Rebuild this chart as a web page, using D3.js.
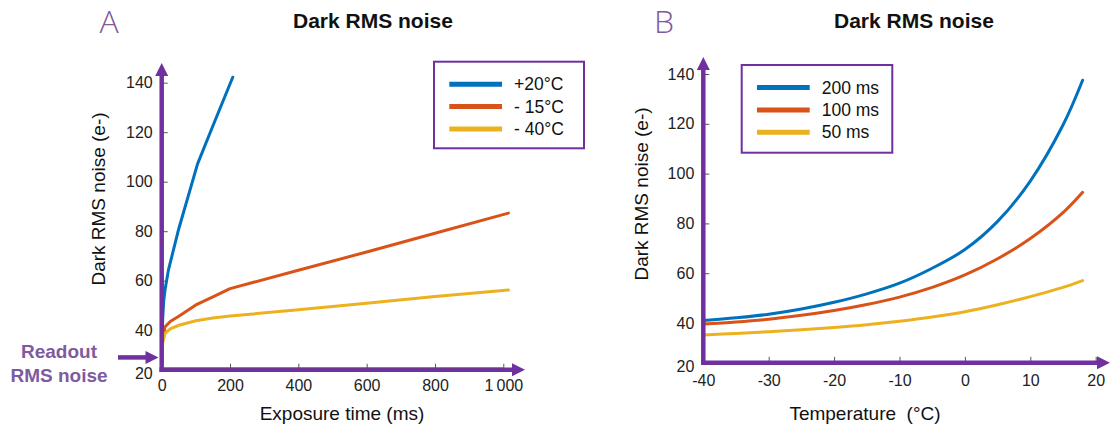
<!DOCTYPE html>
<html>
<head>
<meta charset="utf-8">
<script src="https://cdn.jsdelivr.net/npm/d3@7"></script>
<style>
  html, body { margin: 0; padding: 0; background: #fff; }
  svg { display: block; font-family: "Liberation Sans", Arial, sans-serif; }
</style>
</head>
<body>
<svg id="chart" width="1112" height="432"></svg>
<script>
// Panel A: dark noise vs exposure time (ms), one line per sensor temperature
const expTimeHot = [0, 3, 6, 10, 20, 50, 105, 150, 208];
const noiseHot = [30, 45, 52, 56.5, 64.5, 81, 107.2, 122.6, 142.2];
const expTimeCold = [0, 3, 10, 25, 50, 100, 150, 200, 400, 600, 800, 1015];
const noiseMinus15 = [30, 38, 41.4, 43.5, 45.6, 50.2, 53.5, 56.8, 64.2, 71.6, 79.2, 87.3];
const noiseMinus40 = [30, 35, 38.7, 40.5, 42, 43.8, 44.9, 45.7, 48.3, 50.9, 53.6, 56.2];
const tempLabels = ["+20°C", "- 15°C", "- 40°C"];
const readoutNoise = 29;

// Panel B: dark noise vs temperature (°C), one line per exposure time
const temps = [-40, -35, -30, -25, -20, -15, -10, -5, 0, 5, 10, 15, 18];
const noise200 = [41.0, 42.1, 43.5, 45.6, 48.3, 51.7, 56.0, 62.0, 69.5, 80.8, 97.0, 119.5, 137.5];
const noise100 = [39.6, 40.4, 41.5, 43.1, 45.0, 47.4, 50.4, 54.3, 59.3, 65.8, 73.9, 84.3, 92.5];
const noise50 = [35.2, 35.8, 36.5, 37.3, 38.2, 39.3, 40.7, 42.4, 44.5, 47.3, 50.6, 54.3, 57.0];
const expLabels = ["200 ms", "100 ms", "50 ms"];

// shared ticks
const yTicks = [40, 60, 80, 100, 120, 140];
const xTicksA = [0, 200, 400, 600, 800, 1000];
const xTicksB = [-40, -30, -20, -10, 0, 10, 20];

const colors = ["#0072bd", "#d95319", "#edb120"];
const purple = "#7030a0";
const labelPurple = "#7f5a9f";
const axisBase = 24; // purple x-axis sits a bit above 20

const svg = d3.select("#chart");

function arrow(g, tipX, tipY, dir) {
  // simple triangle head, dir: "up" or "right"
  const L = 13, W = 6.5;
  const pts = dir === "up"
    ? [[tipX, tipY], [tipX - W, tipY + L], [tipX + W, tipY + L]]
    : [[tipX, tipY], [tipX - L, tipY - W], [tipX - L, tipY + W]];
  g.append("path").attr("d", "M" + pts.join("L") + "Z").attr("fill", purple);
}

function drawPanel(o) {
  const g = svg.append("g");
  const x = o.x, y = o.y;
  const x0 = x(o.xDomain[0]);
  const yb = y(axisBase);

  // small inward tick marks
  g.append("g")
    .attr("transform", `translate(0,${yb})`)
    .call(d3.axisBottom(x).tickValues(o.xTicks).tickSize(-6).tickFormat(""))
    .call((a) => a.select(".domain").remove())
    .selectAll("line").attr("stroke", "#555");
  g.append("g")
    .attr("transform", `translate(${x0},0)`)
    .call(d3.axisRight(y).tickValues(yTicks).tickSize(6).tickFormat(""))
    .call((a) => a.select(".domain").remove())
    .selectAll("line").attr("stroke", "#555");

  // tick labels
  const xl = g.append("g")
    .attr("transform", `translate(0,${yb})`)
    .call(d3.axisBottom(x).tickValues(o.xTicks).tickSize(0).tickPadding(o.xPad).tickFormat(o.xFmt));
  xl.select(".domain").remove();
  xl.selectAll("text").attr("font-size", 16).attr("fill", "#222").attr("font-family", null);

  const yl = g.append("g")
    .attr("transform", `translate(${x0},0)`)
    .call(d3.axisLeft(y).tickValues(yTicks).tickSize(0).tickPadding(9));
  yl.select(".domain").remove();
  yl.selectAll("text").attr("font-size", 16).attr("fill", "#222").attr("font-family", null);

  // the "20" label sits just under the purple axis
  g.append("text")
    .attr("x", x0 - 9)
    .attr("y", yb + 4)
    .attr("dy", "0.35em")
    .attr("text-anchor", "end")
    .attr("font-size", 16)
    .attr("fill", "#222")
    .text("20");

  // curves
  const line = d3.line().x((d) => x(d[0])).y((d) => y(d[1])).curve(o.curve);
  o.series.forEach((s, i) => {
    g.append("path")
      .datum(d3.zip(s.xs, s.ys))
      .attr("d", line)
      .attr("fill", "none")
      .attr("stroke", colors[i])
      .attr("stroke-width", 3)
      .attr("stroke-linecap", "round")
      .attr("stroke-linejoin", "round");
  });

  // purple axes with arrow heads
  g.append("line")
    .attr("x1", x0 - 2.2).attr("x2", o.xTip - 12)
    .attr("y1", yb).attr("y2", yb)
    .attr("stroke", purple).attr("stroke-width", 4.5);
  g.append("line")
    .attr("x1", x0).attr("x2", x0)
    .attr("y1", yb + 2.2).attr("y2", o.yTip + 12)
    .attr("stroke", purple).attr("stroke-width", 4.5);
  arrow(g, o.xTip, yb, "right");
  arrow(g, x0, o.yTip, "up");

  if (o.greyEdge) {
    g.append("line")
      .attr("x1", x(o.xDomain[0])).attr("x2", x(o.xDomain[1]))
      .attr("y1", yb - 2).attr("y2", yb - 2)
      .attr("stroke", "#555").attr("stroke-width", 1).attr("opacity", 0.6);
  }

  // titles
  g.append("text")
    .attr("x", o.titleX).attr("y", 28.3)
    .attr("font-size", 21).attr("font-weight", "bold").attr("fill", "#111")
    .text("Dark RMS noise");
  g.append("text")
    .attr("x", o.letterX).attr("y", 33)
    .attr("text-anchor", "middle")
    .attr("font-family", "'Open Sans', 'Noto Sans', sans-serif")
    .attr("font-weight", 300)
    .attr("font-size", 32).attr("fill", labelPurple)
    .text(o.letter);
  g.append("text")
    .attr("x", o.xTitleX).attr("y", 420)
    .attr("text-anchor", "middle")
    .attr("font-size", 19).attr("fill", "#111")
    .attr("xml:space", "preserve")
    .text(o.xTitle);
  g.append("text")
    .attr("transform", `translate(${o.yTitleX},${o.yTitleY}) rotate(-90)`)
    .attr("dy", "0.35em")
    .attr("text-anchor", "middle")
    .attr("font-size", 19).attr("fill", "#111")
    .text("Dark RMS noise (e-)");

  // legend
  const lg = g.append("g").attr("transform", `translate(${o.legend[0]},${o.legend[1]})`);
  lg.append("rect")
    .attr("width", o.legend[2]).attr("height", o.legend[3])
    .attr("fill", "#fff").attr("stroke", purple).attr("stroke-width", 2);
  o.labels.forEach((lab, i) => {
    const ly = 22.6 + i * 22.3;
    lg.append("line")
      .attr("x1", 15.3).attr("x2", 68)
      .attr("y1", ly).attr("y2", ly)
      .attr("stroke", colors[i]).attr("stroke-width", 5);
    lg.append("text")
      .attr("x", 80).attr("y", ly).attr("dy", "0.35em")
      .attr("font-size", 17.5).attr("fill", "#111")
      .text(lab);
  });
  return g;
}

// Panel A
const xA = d3.scaleLinear().domain([0, 1000]).range([161.7, 503.3]);
const yA = d3.scaleLinear().domain([20, 140]).range([379.7, 82.7]);
const gA = drawPanel({
  x: xA, y: yA, xDomain: [0, 1000], xTicks: xTicksA, xPad: 10.3,
  xFmt: (d) => (d === 1000 ? "1\u2009000" : String(d)),
  xTip: 525, yTip: 63, greyEdge: true,
  curve: d3.curveLinear,
  series: [
    { xs: expTimeHot, ys: noiseHot },
    { xs: expTimeCold, ys: noiseMinus15 },
    { xs: expTimeCold, ys: noiseMinus40 },
  ],
  labels: tempLabels,
  legend: [434, 61.7, 150, 86.6],
  titleX: 293, letter: "A", letterX: 109,
  xTitle: "Exposure time (ms)", xTitleX: 342,
  yTitleX: 98, yTitleY: 199,
});

// readout noise marker
gA.append("line")
  .attr("x1", 118).attr("x2", 147)
  .attr("y1", yA(readoutNoise)).attr("y2", yA(readoutNoise))
  .attr("stroke", purple).attr("stroke-width", 4.5);
arrow(gA, 158.5, yA(readoutNoise), "right");
gA.append("text")
  .attr("text-anchor", "middle").attr("font-weight", "bold")
  .attr("font-size", 19).attr("fill", labelPurple)
  .selectAll("tspan")
  .data(["Readout", "RMS noise"])
  .join("tspan")
  .attr("x", 59)
  .attr("y", (d, i) => 357.5 + i * 24)
  .text((d) => d);

// Panel B
const xB = d3.scaleLinear().domain([-40, 20]).range([703.3, 1095.7]);
const yB = d3.scaleLinear().domain([20, 140]).range([372.8, 74]);
drawPanel({
  x: xB, y: yB, xDomain: [-40, 20], xTicks: xTicksB, xPad: 12,
  xFmt: (d) => String(d),
  xTip: 1110, yTip: 57, greyEdge: false,
  curve: d3.curveCatmullRom.alpha(0.5),
  series: [
    { xs: temps, ys: noise200 },
    { xs: temps, ys: noise100 },
    { xs: temps, ys: noise50 },
  ],
  labels: expLabels,
  legend: [741.7, 65, 150.6, 87.7],
  titleX: 834, letter: "B", letterX: 664,
  xTitle: "Temperature  (°C)", xTitleX: 865,
  yTitleX: 641.5, yTitleY: 194,
});
</script>
</body>
</html>
